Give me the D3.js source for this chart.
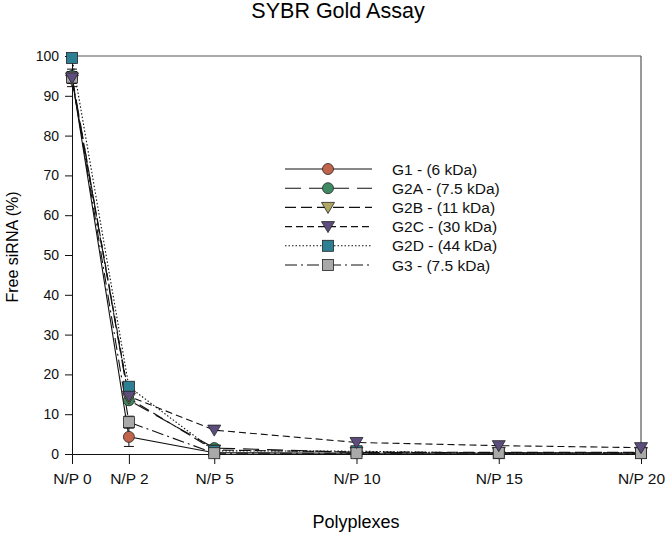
<!DOCTYPE html>
<html><head><meta charset="utf-8">
<script src="https://cdn.jsdelivr.net/npm/d3@7"></script>
<style>body{margin:0;background:#fff}svg{display:block}text{font-family:"Liberation Sans",Arial,sans-serif}</style>
</head><body><svg id="c" width="666" height="534"></svg>
<script>
const npValues = [0, 2, 5, 10, 15, 20];
const npLabels = ["N/P 0", "N/P 2", "N/P 5", "N/P 10", "N/P 15", "N/P 20"];
const yTicks = [0, 10, 20, 30, 40, 50, 60, 70, 80, 90, 100];
const seriesNames = ["G1 - (6 kDa)", "G2A - (7.5 kDa)", "G2B - (11 kDa)", "G2C - (30 kDa)", "G2D - (44 kDa)", "G3 - (7.5 kDa)"];
const g1 = [94.5, 4.3, 0.3, 0.2, 0.2, 0.2];
const g2a = [95, 13.5, 1.5, 0.4, 0.3, 0.3];
const g2b = [94, 14, 1.0, 0.5, 0.4, 0.4];
const g2c = [94.5, 14.5, 6.0, 2.9, 2.1, 1.6];
const g2d = [99.5, 16.9, 0.8, 0.7, 0.2, 0.3];
const g3 = [94.6, 8.0, 0.2, 0.2, 0.3, 0.2];
const g1Err = [2.2, 2.4, 0, 0, 0, 0];
const g3Err = [1.5, 1.5, 0, 0, 0, 0];
const g2cErr = [1.3, 0.8, 0, 0, 0, 0];
const colors = ["#c0644c", "#3f8a62", "#b0a862", "#5c4d7c", "#2d7f94", "#a9a9a9"];
const shapes = ["circle", "circle", "triangle", "triangle", "square", "square"];
const dashes = [null, "16,8", "11,5", "7,4", "1.5,2", "12,4,2,4"];
const allValues = [g1, g2a, g2b, g2c, g2d, g3];
const allErr = [g1Err, null, null, g2cErr, null, g3Err];
const markerOrder = [0, 1, 2, 4, 5, 3];

const svg = d3.select("#c");
const L = 72, R = 641, T = 56, B = 454;
const x = d3.scaleLinear().domain([0, 20]).range([L, R]);
const y = d3.scaleLinear().domain([0, 100]).range([B, T]);

// frame
svg.append("line").attr("x1", L).attr("x2", R).attr("y1", T).attr("y2", T).attr("stroke", "#555").attr("stroke-width", 1.2);
svg.append("line").attr("x1", R).attr("x2", R).attr("y1", T).attr("y2", B).attr("stroke", "#555").attr("stroke-width", 1.2);

const xAxis = svg.append("g").attr("transform", `translate(0,${B})`)
  .call(d3.axisBottom(x).tickValues(npValues).tickFormat((d, i) => npLabels[i]).tickSizeOuter(0).tickSize(10).tickPadding(9));
xAxis.selectAll(".tick line").filter(d => d === 0 || d === 20).remove();
const yAxis = svg.append("g").attr("transform", `translate(${L},0)`)
  .call(d3.axisLeft(y).tickValues(yTicks).tickSizeOuter(0).tickSize(7).tickPadding(6));
xAxis.selectAll("text").attr("font-size", 15.5);
yAxis.selectAll("text").attr("font-size", 14);
[xAxis, yAxis].forEach(a => {
  a.selectAll("text").attr("fill", "#111").style("font-family", "Liberation Sans, Arial, sans-serif");
  a.selectAll("line,path").attr("stroke", "#111");
});

svg.append("text").attr("x", 338).attr("y", 18).attr("text-anchor", "middle").attr("font-size", 21.5).text("SYBR Gold Assay");
svg.append("text").attr("x", 356).attr("y", 528).attr("text-anchor", "middle").attr("font-size", 18).text("Polyplexes");
svg.append("text").attr("transform", "translate(18,247) rotate(-90)").attr("text-anchor", "middle").attr("font-size", 16).text("Free siRNA (%)");

const line = d3.line().x((d, i) => x(npValues[i])).y(d => y(d));

function marker(g, shape, cx, cy, fill) {
  if (shape === "circle") g.append("circle").attr("cx", cx).attr("cy", cy).attr("r", 5.5).attr("fill", fill).attr("stroke", "#222").attr("stroke-width", 0.8);
  else if (shape === "square") g.append("rect").attr("x", cx - 5.5).attr("y", cy - 5.5).attr("width", 11).attr("height", 11).attr("fill", fill).attr("stroke", "#222").attr("stroke-width", 0.8);
  else g.append("path").attr("d", `M${cx - 6.5},${cy - 5}L${cx + 6.5},${cy - 5}L${cx},${cy + 6}Z`).attr("fill", fill).attr("stroke", "#222").attr("stroke-width", 0.8);
}

allValues.forEach((vals, s) => {
  const g = svg.append("g");
  g.append("path").attr("d", line(vals)).attr("fill", "none").attr("stroke", "#111").attr("stroke-width", 1.1)
    .attr("stroke-dasharray", dashes[s]);
  const err = allErr[s];
  if (err) vals.forEach((v, i) => {
    if (!err[i]) return;
    const cx = x(npValues[i]);
    g.append("line").attr("x1", cx).attr("x2", cx).attr("y1", y(v - err[i])).attr("y2", y(Math.min(100, v + err[i]))).attr("stroke", "#111");
    [v - err[i], v + err[i]].forEach(e => {
      if (e > 100) return;
      g.append("line").attr("x1", cx - 5).attr("x2", cx + 5).attr("y1", y(e)).attr("y2", y(e)).attr("stroke", "#111");
    });
  });
});
markerOrder.forEach(s => {
  const g = svg.append("g");
  allValues[s].forEach((v, i) => marker(g, shapes[s], x(npValues[i]), y(v), colors[s]));
});

// legend
const lg = svg.append("g");
seriesNames.forEach((name, s) => {
  const yy = 169 + s * 19.2;
  lg.append("line").attr("x1", 285).attr("x2", 372).attr("y1", yy).attr("y2", yy).attr("stroke", "#111").attr("stroke-width", 1.1).attr("stroke-dasharray", dashes[s]);
  marker(lg, shapes[s], 328, yy, colors[s]);
  lg.append("text").attr("x", 392).attr("y", yy + 5.5).attr("font-size", 15.5).attr("fill", "#111").text(name);
});
</script></body></html>
